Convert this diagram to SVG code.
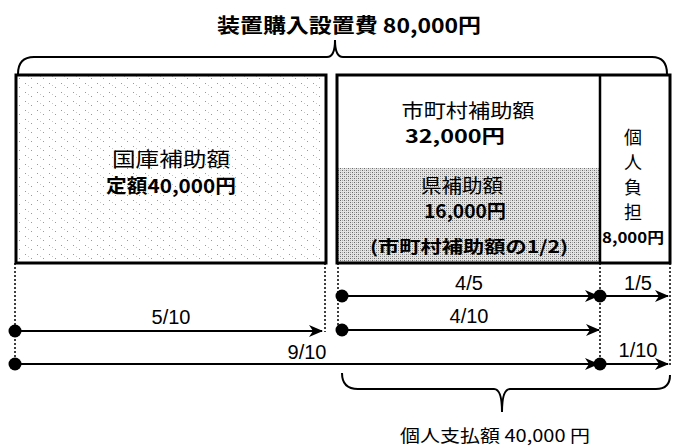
<svg xmlns="http://www.w3.org/2000/svg" width="673" height="446" viewBox="0 0 673 446">
<defs>
<style>
.box{fill:none;stroke:#000;stroke-width:3}
.jp{font-family:"Noto Sans CJK JP","Liberation Sans",sans-serif;fill:#000}
.num{font-family:"Liberation Sans",Arial,sans-serif;font-size:20px;fill:#000;text-anchor:middle}
.b{font-weight:bold}
.dot{stroke:#000;stroke-width:1.5;stroke-dasharray:2 2;fill:none}
.arr{stroke:#000;stroke-width:2;fill:none;marker-end:url(#ah)}
.brace{stroke:#000;stroke-width:2;fill:none}
</style>
<marker id="ah" viewBox="0 0 14 12" refX="13" refY="6" markerWidth="14" markerHeight="12" markerUnits="userSpaceOnUse" orient="auto">
<path d="M0,0 L14,6 L0,12 L4,6 z" fill="#000"/>
</marker>
<pattern id="light" width="12" height="9" patternUnits="userSpaceOnUse">
<rect x="1" y="2" width="1" height="1" fill="#9a9a9a"/>
<rect x="7" y="6" width="1" height="1" fill="#9a9a9a"/>
<rect x="4" y="4" width="1" height="1" fill="#c8c8c8"/>
</pattern>
<pattern id="dense" width="4" height="4" patternUnits="userSpaceOnUse">
<rect width="4" height="4" fill="#e4e4e4"/>
<rect x="0" y="0" width="1" height="1" fill="#6a6a6a"/>
<rect x="2" y="2" width="1" height="1" fill="#6a6a6a"/>
<rect x="2" y="0" width="1" height="1" fill="#a8a8a8"/>
<rect x="0" y="2" width="1" height="1" fill="#a8a8a8"/>
</pattern>
</defs>
<rect width="673" height="446" fill="#fff"/>

<g id="title">
<text class="jp b" x="217" y="33" font-size="20" textLength="264" lengthAdjust="spacingAndGlyphs">装置購入設置費 80,000円</text>
<path class="brace" d="M18,74 Q18,57 34,57 L327,57 Q335,57 335,40 Q335,57 343,57 L652,57 Q667,57 667,74"/>
</g>

<g id="national">
<rect x="16" y="75" width="310" height="188" fill="url(#light)"/>
<rect class="box" x="16" y="75" width="310" height="188"/>
<text class="jp" x="171" y="167" font-size="20" text-anchor="middle" textLength="118" lengthAdjust="spacingAndGlyphs">国庫補助額</text>
<text class="jp b" x="171" y="193" font-size="19" text-anchor="middle" textLength="130" lengthAdjust="spacingAndGlyphs">定額40,000円</text>
</g>

<g id="municipal">
<rect x="338" y="168" width="261" height="94" fill="url(#dense)"/>
<rect class="box" x="337" y="75" width="333" height="188"/>
<line x1="600" y1="75" x2="600" y2="263" stroke="#000" stroke-width="2.5"/>
<text class="jp" x="468" y="118" font-size="19" text-anchor="middle" textLength="133" lengthAdjust="spacingAndGlyphs">市町村補助額</text>
<text class="jp b" x="455" y="143" font-size="18" text-anchor="middle" textLength="100" lengthAdjust="spacingAndGlyphs">32,000円</text>
</g>

<g id="prefecture">
<text class="jp" x="462" y="193" font-size="19" text-anchor="middle" textLength="82" lengthAdjust="spacingAndGlyphs">県補助額</text>
<text class="jp b" x="465" y="218" font-size="18" text-anchor="middle" textLength="82" lengthAdjust="spacingAndGlyphs">16,000円</text>
<text class="jp b" x="469" y="253" font-size="17" text-anchor="middle" textLength="198" lengthAdjust="spacingAndGlyphs">(市町村補助額の1/2)</text>
</g>

<g id="individual">
<text class="jp" x="633" y="144" font-size="18" text-anchor="middle">個</text>
<text class="jp" x="633" y="169" font-size="18" text-anchor="middle">人</text>
<text class="jp" x="633" y="194" font-size="18" text-anchor="middle">負</text>
<text class="jp" x="633" y="219" font-size="18" text-anchor="middle">担</text>
<text class="jp b" x="633" y="243" font-size="15" text-anchor="middle" textLength="62" lengthAdjust="spacingAndGlyphs">8,000円</text>
</g>

<g id="connectors">
<line class="dot" x1="15" y1="263" x2="15" y2="365"/>
<line class="dot" x1="325" y1="263" x2="325" y2="332"/>
<line class="dot" x1="338" y1="263" x2="338" y2="330"/>
<line class="dot" x1="600" y1="263" x2="600" y2="365"/>
<line class="dot" x1="670" y1="263" x2="670" y2="365"/>
<line class="arr" x1="342" y1="296" x2="598" y2="296"/>
<line class="arr" x1="600" y1="296" x2="668" y2="296"/>
<line class="arr" x1="15" y1="331" x2="322" y2="331"/>
<line class="arr" x1="342" y1="330" x2="599" y2="330"/>
<line class="arr" x1="15" y1="364" x2="598" y2="364"/>
<line class="arr" x1="600" y1="364" x2="668" y2="364"/>
<circle cx="342" cy="296" r="6.5"/>
<circle cx="600" cy="296" r="6.5"/>
<circle cx="15" cy="331" r="6.5"/>
<circle cx="342" cy="330" r="6.5"/>
<circle cx="15" cy="364" r="6.5"/>
<circle cx="600" cy="364" r="6.5"/>
<text class="num" x="469" y="290">4/5</text>
<text class="num" x="638" y="290">1/5</text>
<text class="num" x="171" y="324">5/10</text>
<text class="num" x="469" y="323">4/10</text>
<text class="num" x="307" y="359">9/10</text>
<text class="num" x="638" y="357">1/10</text>
</g>

<g id="payment">
<path class="brace" d="M342,373 Q342,389 358,389 L494,389 Q502,389 502,412 Q502,389 510,389 L656,389 Q670,389 670,375"/>
<text class="jp" x="495" y="442" font-size="17" text-anchor="middle" textLength="190" lengthAdjust="spacingAndGlyphs">個人支払額 40,000 円</text>
</g>
</svg>
